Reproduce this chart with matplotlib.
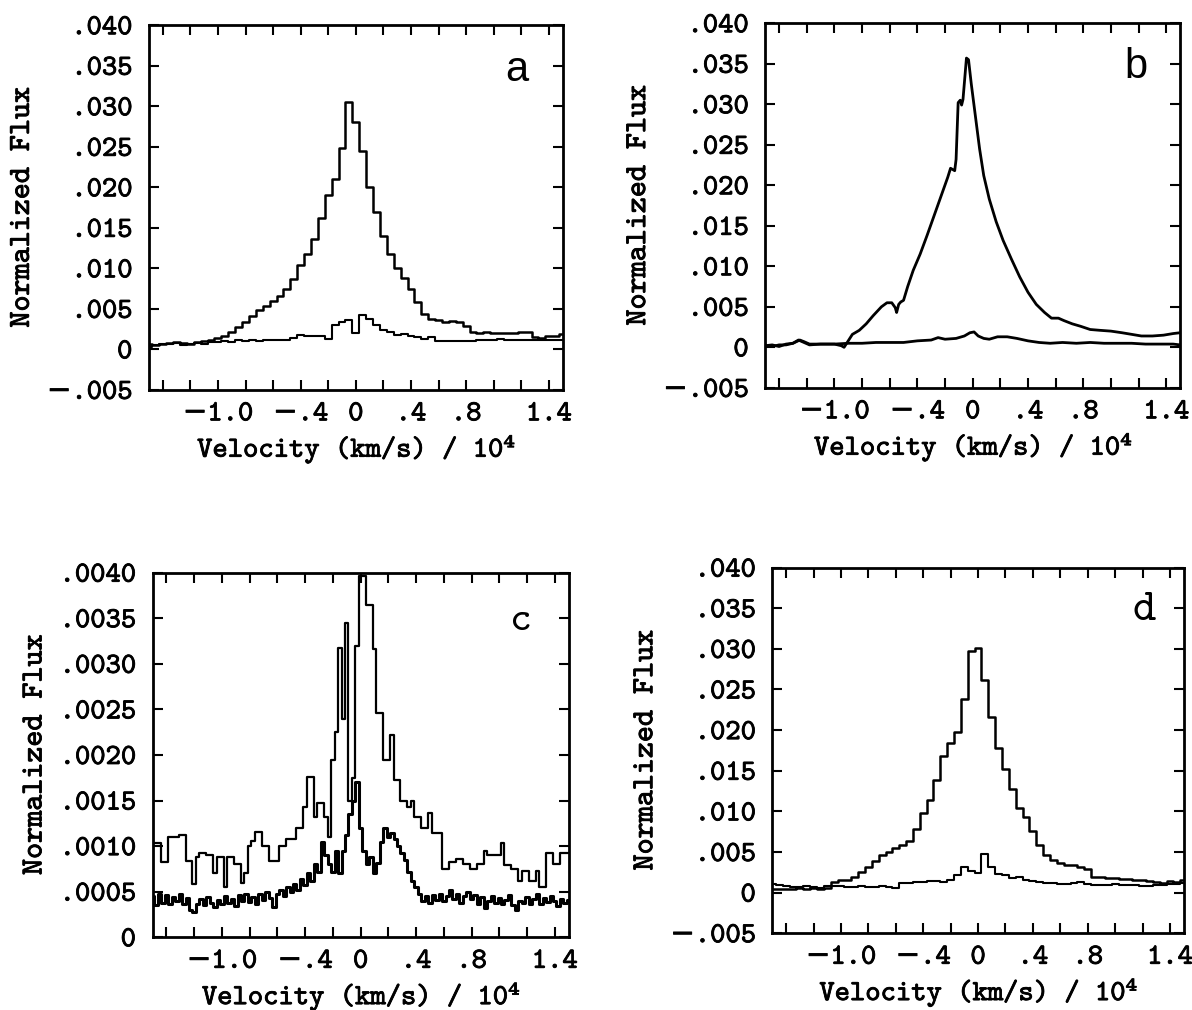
import numpy as np
import matplotlib
matplotlib.use("Agg")
import matplotlib.pyplot as plt
from matplotlib import patheffects

# velocity bins (units of 10^4 km/s)
VEL_050 = np.round(np.arange(-1.5, 1.5001, 0.05), 3)
VEL_025 = np.round(np.arange(-1.5, 1.5001, 0.025), 3)

# panel a: step profiles on 0.05 bins
A_BROAD = [
    0.0006, 0.0005, 0.0007, 0.0008, 0.0009, 0.0008, 0.0007, 0.0009, 0.0010, 0.0012,
    0.0014, 0.0017, 0.0021, 0.0027, 0.0034, 0.0041, 0.0048, 0.0054, 0.0060, 0.0066,
    0.0075, 0.0087, 0.0104, 0.0118, 0.0136, 0.0162, 0.0190, 0.0210, 0.0248, 0.0305,
    0.0280, 0.0245, 0.0200, 0.0170, 0.0140, 0.0118, 0.0100, 0.0088, 0.0074, 0.0058,
    0.0044, 0.0038, 0.0036, 0.0034, 0.0035, 0.0034, 0.0029, 0.0022, 0.0020, 0.0021,
    0.0020, 0.0020, 0.0020, 0.0020, 0.0021, 0.0022, 0.0015, 0.0014, 0.0016, 0.0017,
    0.0019,
]
A_NARROW = [
    0.0003, 0.0005, 0.0006, 0.0007, 0.0008, 0.0005, 0.0007, 0.0008, 0.0007, 0.0009,
    0.0009, 0.0010, 0.0009, 0.0011, 0.0010, 0.0011, 0.0010, 0.0012, 0.0011, 0.0012,
    0.0012, 0.0014, 0.0018, 0.0016, 0.0017, 0.0016, 0.0013, 0.0030, 0.0034, 0.0036,
    0.0020, 0.0042, 0.0038, 0.0030, 0.0024, 0.0022, 0.0018, 0.0019, 0.0016, 0.0015,
    0.0013, 0.0015, 0.0010, 0.0010, 0.0010, 0.0010, 0.0010, 0.0010, 0.0012, 0.0012,
    0.0012, 0.0013, 0.0012, 0.0012, 0.0011, 0.0011, 0.0012, 0.0011, 0.0012, 0.0011,
    0.0012,
]

# panel b: smooth traces, (velocity, flux) vertices
B_BROAD_V = [
    -1.50, -1.45, -1.40, -1.35, -1.30, -1.25, -1.22, -1.18, -1.10, -1.00, -0.95, -0.93,
    -0.90, -0.87, -0.82, -0.77, -0.72, -0.66, -0.62, -0.585, -0.56, -0.55, -0.535, -0.52,
    -0.50, -0.47, -0.43, -0.38, -0.33, -0.28, -0.23, -0.18, -0.16, -0.13, -0.12, -0.105,
    -0.09, -0.08, -0.07, -0.045, -0.03, -0.01, 0.02, 0.05, 0.08, 0.12, 0.17, 0.22,
    0.28, 0.34, 0.40, 0.46, 0.52, 0.57, 0.62, 0.66, 0.72, 0.78, 0.85, 0.92,
    1.00, 1.08, 1.15, 1.22, 1.30, 1.38, 1.45, 1.50,
]
B_BROAD_F = [
    0.0002, 0.0001, 0.0003, 0.0003, 0.0005, 0.0009, 0.0007, 0.0004, 0.0004, 0.0004, 0.0002, 0.0000,
    0.0008, 0.0016, 0.0021, 0.0029, 0.0039, 0.0050, 0.0055, 0.0055, 0.0049, 0.0043, 0.0053, 0.0056,
    0.0058, 0.0075, 0.0095, 0.0115, 0.0138, 0.0162, 0.0186, 0.0210, 0.0221, 0.0218, 0.0232, 0.0302,
    0.0305, 0.0299, 0.0306, 0.0357, 0.0355, 0.0325, 0.0285, 0.0245, 0.0212, 0.0183, 0.0155, 0.0132,
    0.0109, 0.0087, 0.0068, 0.0053, 0.0043, 0.0036, 0.0036, 0.0033, 0.0029, 0.0026, 0.0022, 0.0021,
    0.0020, 0.0018, 0.0016, 0.0014, 0.0014, 0.0015, 0.0017, 0.0018,
]
B_NARROW_V = [
    -1.50, -1.45, -1.40, -1.35, -1.30, -1.26, -1.22, -1.18, -1.10, -1.00, -0.90, -0.80,
    -0.70, -0.60, -0.50, -0.40, -0.30, -0.25, -0.20, -0.12, -0.06, -0.02, 0.01, 0.04,
    0.08, 0.12, 0.18, 0.25, 0.32, 0.40, 0.48, 0.56, 0.65, 0.75, 0.85, 0.95,
    1.05, 1.15, 1.25, 1.35, 1.45, 1.50,
]
B_NARROW_F = [
    0.0002, 0.0003, 0.0001, 0.0004, 0.0005, 0.0009, 0.0006, 0.0003, 0.0004, 0.0004, 0.0005, 0.0005,
    0.0006, 0.0006, 0.0006, 0.0008, 0.0009, 0.0012, 0.0010, 0.0011, 0.0014, 0.0018, 0.0019, 0.0014,
    0.0011, 0.0010, 0.0013, 0.0013, 0.0011, 0.0008, 0.0006, 0.0005, 0.0006, 0.0005, 0.0006, 0.0005,
    0.0005, 0.0005, 0.0004, 0.0004, 0.0004, 0.0003,
]

# panel c: step profiles on 0.025 bins
C_UPPER = [
    0.00103, 0.00103, 0.00103, 0.00083, 0.00083, 0.00110, 0.00110, 0.00110, 0.00112, 0.00112,
    0.00084, 0.00084, 0.00059, 0.00088, 0.00093, 0.00093, 0.00090, 0.00090, 0.00070, 0.00088,
    0.00088, 0.00055, 0.00088, 0.00088, 0.00080, 0.00080, 0.00060, 0.00070, 0.00100, 0.00106,
    0.00116, 0.00116, 0.00100, 0.00100, 0.00084, 0.00084, 0.00084, 0.00100, 0.00100, 0.00108,
    0.00108, 0.00108, 0.00120, 0.00120, 0.00143, 0.00176, 0.00176, 0.00132, 0.00147, 0.00147,
    0.00132, 0.00110, 0.00195, 0.00225, 0.00317, 0.00240, 0.00345, 0.00150, 0.00175, 0.00320,
    0.00396, 0.00396, 0.00364, 0.00364, 0.00316, 0.00246, 0.00246, 0.00194, 0.00194, 0.00222,
    0.00172, 0.00172, 0.00150, 0.00150, 0.00143, 0.00150, 0.00132, 0.00132, 0.00120, 0.00120,
    0.00136, 0.00114, 0.00114, 0.00114, 0.00075, 0.00075, 0.00083, 0.00083, 0.00086, 0.00086,
    0.00080, 0.00080, 0.00075, 0.00075, 0.00080, 0.00080, 0.00095, 0.00090, 0.00090, 0.00090,
    0.00090, 0.00103, 0.00079, 0.00079, 0.00075, 0.00075, 0.00062, 0.00073, 0.00073, 0.00062,
    0.00062, 0.00073, 0.00055, 0.00055, 0.00092, 0.00092, 0.00080, 0.00080, 0.00092, 0.00092,
    0.00092,
]
C_LOWER = [
    0.00045, 0.00035, 0.00048, 0.00038, 0.00046, 0.00036, 0.00044, 0.00040, 0.00047, 0.00037,
    0.00043, 0.00030, 0.00028, 0.00036, 0.00042, 0.00035, 0.00044, 0.00038, 0.00033, 0.00041,
    0.00036, 0.00045, 0.00038, 0.00042, 0.00034, 0.00046, 0.00040, 0.00048, 0.00039, 0.00044,
    0.00036, 0.00047, 0.00041, 0.00050, 0.00043, 0.00033, 0.00048, 0.00052, 0.00045, 0.00055,
    0.00050, 0.00058, 0.00052, 0.00064, 0.00057, 0.00070, 0.00062, 0.00080, 0.00072, 0.00105,
    0.00090, 0.00080, 0.00072, 0.00095, 0.00070, 0.00095, 0.00112, 0.00135, 0.00150, 0.00170,
    0.00120, 0.00095, 0.00080, 0.00088, 0.00070, 0.00082, 0.00105, 0.00120, 0.00110, 0.00114,
    0.00108, 0.00100, 0.00092, 0.00085, 0.00072, 0.00062, 0.00055, 0.00048, 0.00040, 0.00045,
    0.00038, 0.00046, 0.00041, 0.00048, 0.00040, 0.00045, 0.00052, 0.00042, 0.00047, 0.00038,
    0.00045, 0.00050, 0.00042, 0.00046, 0.00037, 0.00044, 0.00032, 0.00040, 0.00045, 0.00038,
    0.00043, 0.00036, 0.00041, 0.00046, 0.00035, 0.00030, 0.00040, 0.00038, 0.00044, 0.00036,
    0.00042, 0.00047, 0.00037, 0.00043, 0.00039, 0.00045, 0.00040, 0.00034, 0.00042, 0.00038,
    0.00041,
]

# panel d: step profiles on 0.05 bins
D_BROAD = [
    0.0004, 0.0005, 0.0004, 0.0005, 0.0006, 0.0004, 0.0006, 0.0005, 0.0006, 0.0013,
    0.0015, 0.0016, 0.0019, 0.0025, 0.0032, 0.0039, 0.0046, 0.0050, 0.0055, 0.0059,
    0.0064, 0.0078, 0.0098, 0.0114, 0.0138, 0.0168, 0.0184, 0.0198, 0.0238, 0.0297,
    0.0301, 0.0262, 0.0216, 0.0178, 0.0152, 0.0128, 0.0104, 0.0093, 0.0076, 0.0058,
    0.0046, 0.0040, 0.0036, 0.0034, 0.0034, 0.0032, 0.0029, 0.0019, 0.0019, 0.0018,
    0.0018, 0.0017, 0.0017, 0.0016, 0.0015, 0.0014, 0.0013, 0.0012, 0.0014, 0.0013,
    0.0015,
]
D_NARROW = [
    0.0010, 0.0009, 0.0008, 0.0007, 0.0007, 0.0008, 0.0007, 0.0006, 0.0008, 0.0008,
    0.0008, 0.0007, 0.0007, 0.0008, 0.0007, 0.0007, 0.0008, 0.0007, 0.0006, 0.0012,
    0.0012, 0.0013, 0.0013, 0.0014, 0.0014, 0.0013, 0.0015, 0.0022, 0.0032, 0.0026,
    0.0024, 0.0048, 0.0032, 0.0023, 0.0022, 0.0018, 0.0019, 0.0015, 0.0014, 0.0013,
    0.0012, 0.0012, 0.0011, 0.0011, 0.0012, 0.0013, 0.0010, 0.0009, 0.0009, 0.0009,
    0.0010, 0.0009, 0.0009, 0.0009, 0.0008, 0.0008, 0.0009, 0.0009, 0.0010, 0.0011,
    0.0012,
]

X_TICKS = [-1.4, -1.2, -1.0, -0.8, -0.6, -0.4, -0.2, 0.0, 0.2, 0.4, 0.6, 0.8, 1.0, 1.2, 1.4]
X_LABELS = ["", "", "\u22121.0", "", "", "\u2212.4", "", "0", "", ".4", "", ".8", "", "", "1.4"]
Y_TICKS_BIG = [-0.005, 0.0, 0.005, 0.010, 0.015, 0.020, 0.025, 0.030, 0.035, 0.040]
Y_LABELS_BIG = ["\u2212.005", "0", ".005", ".010", ".015", ".020", ".025", ".030", ".035", ".040"]
Y_TICKS_C = [0.0, 0.0005, 0.0010, 0.0015, 0.0020, 0.0025, 0.0030, 0.0035, 0.0040]
Y_LABELS_C = ["0", ".0005", ".0010", ".0015", ".0020", ".0025", ".0030", ".0035", ".0040"]

TT = ["cmtt10", "DejaVu Serif"]
BOLDISH = [patheffects.withStroke(linewidth=0.6, foreground="black")]

fig = plt.figure(figsize=(11.92, 10.10), dpi=100)
boxes = {
    "a": [0.125, 0.614, 0.347, 0.361],
    "b": [0.642, 0.616, 0.348, 0.361],
    "c": [0.128, 0.072, 0.349, 0.361],
    "d": [0.648, 0.076, 0.345, 0.362],
}


def style_axes(ax, yticks, ylabels, ylim, letter, letter_font, letter_pos, letter_size):
    ax.set_xlim(-1.5, 1.5)
    ax.set_ylim(*ylim)
    ax.set_xticks(X_TICKS)
    ax.set_xticklabels(X_LABELS)
    ax.set_yticks(yticks)
    ax.set_yticklabels(ylabels)
    ax.tick_params(axis="both", direction="in", top=True, right=True,
                   length=7, width=1.5, labelsize=21)
    ax.tick_params(axis="x", pad=9)
    ax.tick_params(axis="y", pad=12)
    for lab in ax.get_xticklabels() + ax.get_yticklabels():
        lab.set_family(TT)
        lab.set_path_effects(BOLDISH)
    for sp in ax.spines.values():
        sp.set_linewidth(2.0)
    ax.set_xlabel("Velocity (km/s) / 10\u2074", family=TT, fontsize=21,
                  labelpad=6, path_effects=BOLDISH)
    ax.set_ylabel("Normalized Flux", family=TT, fontsize=22,
                  labelpad=8, path_effects=BOLDISH)
    ax.text(letter_pos[0], letter_pos[1], letter, transform=ax.transAxes,
            ha="center", va="center", fontsize=letter_size, family=letter_font)


ax_a = fig.add_axes(boxes["a"])
ax_a.plot(VEL_050, A_BROAD, drawstyle="steps-mid", color="black", lw=1.8)
ax_a.plot(VEL_050, A_NARROW, drawstyle="steps-mid", color="black", lw=1.5)
style_axes(ax_a, Y_TICKS_BIG, Y_LABELS_BIG, (-0.005, 0.040), "a",
           "Liberation Sans", (0.89, 0.877), 30)

ax_b = fig.add_axes(boxes["b"])
ax_b.plot(B_BROAD_V, B_BROAD_F, color="black", lw=2.0)
ax_b.plot(B_NARROW_V, B_NARROW_F, color="black", lw=2.0)
style_axes(ax_b, Y_TICKS_BIG, Y_LABELS_BIG, (-0.005, 0.040), "b",
           "Liberation Sans", (0.894, 0.88), 30)

ax_c = fig.add_axes(boxes["c"])
ax_c.plot(VEL_025, C_UPPER, drawstyle="steps-mid", color="black", lw=1.6)
ax_c.plot(VEL_025, C_LOWER, drawstyle="steps-mid", color="black", lw=2.2)
style_axes(ax_c, Y_TICKS_C, Y_LABELS_C, (0.0, 0.0040), "c",
           TT, (0.885, 0.865), 30)

ax_d = fig.add_axes(boxes["d"])
ax_d.plot(VEL_050, D_BROAD, drawstyle="steps-mid", color="black", lw=1.8)
ax_d.plot(VEL_050, D_NARROW, drawstyle="steps-mid", color="black", lw=1.5)
style_axes(ax_d, Y_TICKS_BIG, Y_LABELS_BIG, (-0.005, 0.040), "d",
           TT, (0.905, 0.88), 32)

fig.savefig("out.png", dpi=100)
